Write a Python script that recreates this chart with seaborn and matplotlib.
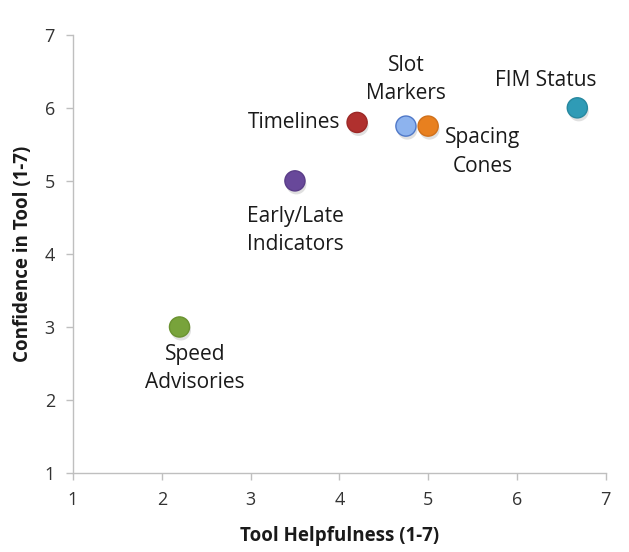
import numpy as np
import pandas as pd
import matplotlib
matplotlib.use("Agg")
import matplotlib.pyplot as plt
import matplotlib.patheffects as pe
import seaborn as sns

tools = ["Speed\nAdvisories", "Early/Late\nIndicators", "Timelines",
         "Slot\nMarkers", "Spacing\nCones", "FIM Status"]
helpfulness = [2.2, 3.5, 4.2, 4.75, 5.0, 6.68]
confidence = [3.0, 5.0, 5.8, 5.75, 5.75, 6.0]
colors = ["#78a33b", "#68489a", "#b0302e", "#8db3ee", "#e8801f", "#2f9bb6"]
edges = ["#6a9230", "#5a3d88", "#9c2826", "#4f78c8", "#d0701a", "#27889f"]

# label offsets in points (dx, dy, ha, va)
offsets = [(11, -12, "center", "top"), (0, -18, "center", "top"),
           (-12, 0, "right", "center"), (0, 16, "center", "bottom"),
           (12, -1, "left", "top"), (-23, 12, "center", "bottom")]

df = pd.DataFrame({"tool": tools, "x": helpfulness, "y": confidence})

sns.set_style("white")
plt.rcParams["font.family"] = ["Open Sans", "DejaVu Sans"]

fig = plt.figure(figsize=(6.29, 5.52), dpi=100)
ax = fig.add_axes([0.116, 0.143, 0.847, 0.794])

sns.scatterplot(data=df, x="x", y="y", hue="tool", palette=colors,
                s=210, edgecolor=edges, linewidth=1.0, legend=False, ax=ax,
                zorder=3)
for coll in ax.collections:
    coll.set_path_effects([pe.SimplePatchShadow(offset=(1.0, -2.5), shadow_rgbFace="#999999", alpha=0.3),
                           pe.Normal()])

for name, xv, yv, (dx, dy, ha, va) in zip(tools, helpfulness, confidence, offsets):
    ax.annotate(name, (xv, yv), xytext=(dx, dy), textcoords="offset points",
                ha=ha, va=va, multialignment="center", fontsize=15,
                color="#1a1a1a", linespacing=1.45)

ax.set_xlim(1, 7)
ax.set_ylim(1, 7)
ax.set_xticks(range(1, 8))
ax.set_yticks(range(1, 8))
ax.tick_params(axis="both", which="both", direction="out", length=5, width=1,
               color="#bfbfbf", labelsize=13, labelcolor="#333333", pad=8, bottom=True, left=True)
for side in ["top", "right"]:
    ax.spines[side].set_visible(False)
for side in ["left", "bottom"]:
    ax.spines[side].set_color("#bfbfbf")
    ax.spines[side].set_linewidth(1)

ax.set_xlabel("Tool Helpfulness (1-7)", fontsize=13.5, fontweight="bold", labelpad=12, color="#1a1a1a")
ax.set_ylabel("Confidence in Tool (1-7)", fontsize=13.5, fontweight="bold", labelpad=8, color="#1a1a1a")

fig.savefig("out.png", dpi=100)
